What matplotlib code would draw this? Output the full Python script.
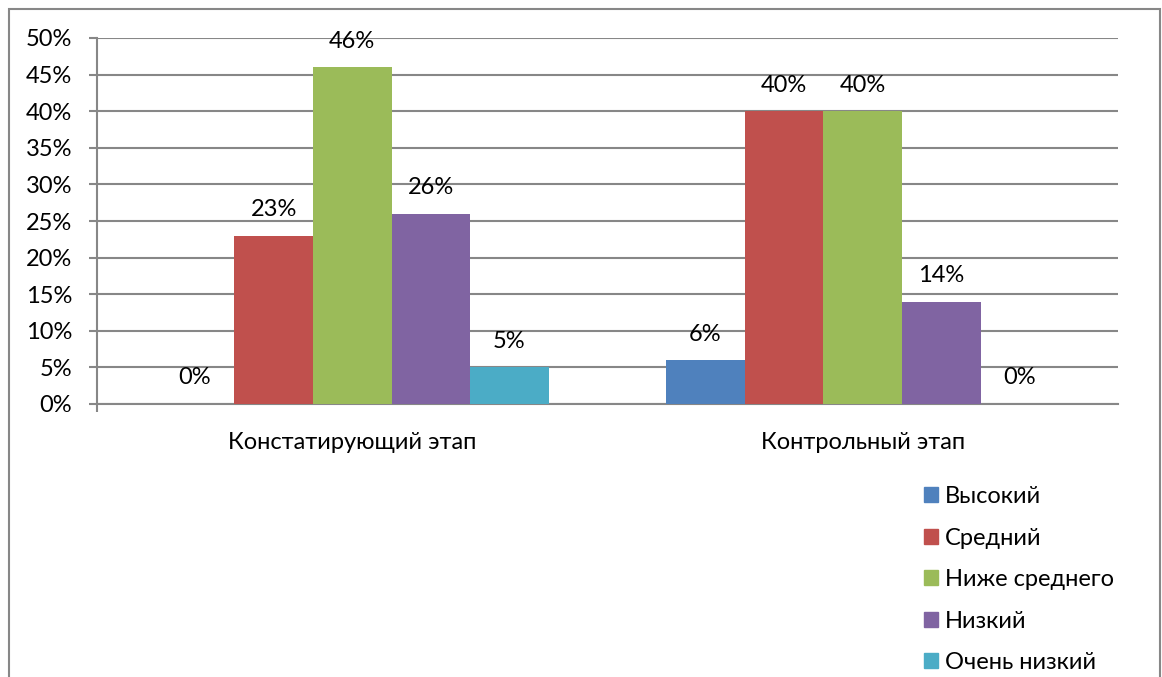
import matplotlib
matplotlib.use("Agg")
import matplotlib.pyplot as plt
import matplotlib.patches as mpatches
import numpy as np

plt.rcParams['font.family'] = ['Lato', 'DejaVu Sans']

categories = ["Констатирующий этап", "Контрольный этап"]
series = ["Высокий", "Средний", "Ниже среднего", "Низкий", "Очень низкий"]
values = {
    "Высокий": [0, 6],
    "Средний": [23, 40],
    "Ниже среднего": [46, 40],
    "Низкий": [26, 14],
    "Очень низкий": [5, 0],
}
colors = ["#4F81BD", "#C0504D", "#9BBB59", "#8064A2", "#4BACC6"]
yticks = [0, 5, 10, 15, 20, 25, 30, 35, 40, 45, 50]

FS = 17
W, H = 1162, 677
fig = plt.figure(figsize=(W/100, H/100), dpi=100)
ax = fig.add_axes([97/W, 1-404/H, (1118-97)/W, (404-38)/H])

x = np.arange(len(categories))
bw = 0.154
n = len(series)
for i, (s, c) in enumerate(zip(series, colors)):
    pos = x + (i - (n-1)/2) * bw
    ax.bar(pos, values[s], width=bw, color=c, label=s, zorder=3)
    for p, v in zip(pos, values[s]):
        ax.annotate(f"{v}%", (p, v), xytext=(0, 26), textcoords='offset pixels',
                    ha='center', va='center', fontsize=FS, zorder=4)

ax.set_xlim(-0.5, 1.5)
ax.set_ylim(0, 50)
ax.set_yticks(yticks)
ax.set_yticklabels([f"{t}%" for t in yticks], fontsize=FS)
ax.yaxis.grid(True, color='#878787', linewidth=1.5, zorder=0)
ax.set_axisbelow(True)

ax.set_xticks([-0.5])
ax.set_xticklabels([""])
ax.set_xticks(x, minor=True)
ax.set_xticklabels(categories, minor=True, fontsize=FS)
ax.tick_params(axis='x', which='minor', length=0, pad=20.5)
ax.tick_params(axis='x', which='major', length=6, width=1.5, color='#878787', direction='out')
ax.tick_params(axis='y', length=6, width=1.5, color='#878787', pad=12)

for sp in ['top', 'right']:
    ax.spines[sp].set_visible(False)
ax.spines['left'].set_color('#878787')
ax.spines['left'].set_linewidth(1.5)
ax.spines['bottom'].set_color('#878787')
ax.spines['bottom'].set_linewidth(1.5)

handles = [mpatches.Patch(color=c, label=s) for s, c in zip(series, colors)]
leg = fig.legend(handles=handles, loc='upper left', bbox_to_anchor=(924/W, 1-486/H),
                 frameon=False, fontsize=FS, handlelength=0.6, handleheight=0.6,
                 handletextpad=0.3, labelspacing=0.87, borderaxespad=0, borderpad=0)

border = mpatches.Rectangle((9/W, -0.05), (1160-9)/W, (1-9/H) + 0.05,
                            transform=fig.transFigure, fill=False,
                            edgecolor='#878787', linewidth=1.5)
fig.patches.append(border)

fig.savefig("out.png", dpi=100)
